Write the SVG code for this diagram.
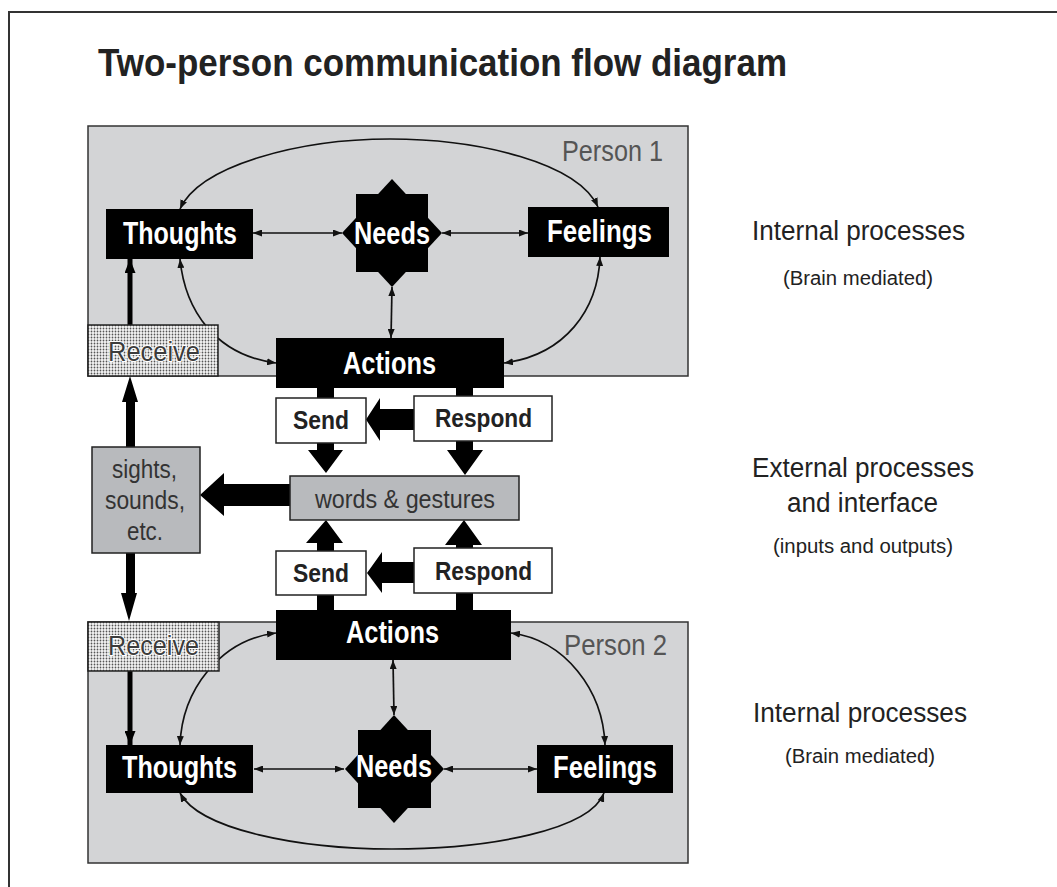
<svg xmlns="http://www.w3.org/2000/svg" width="1057" height="887" viewBox="0 0 1057 887">
<style>
  text { font-family: "Liberation Sans Narrow", "Liberation Sans", Arial, sans-serif; }
  .title { font-size: 39px; font-weight: bold; fill: #222; }
  .person { fill: #d3d4d6; stroke: #333; stroke-width: 1.5; }
  .plabel { font-size: 30px; fill: #555; }
  .blk { fill: #000; }
  .wlbl { font-size: 31px; font-weight: bold; fill: #fff; }
  .recv { fill: url(#dots); stroke: #222; stroke-width: 1.5; }
  .rlbl { font-size: 27px; fill: #3c3c3c; stroke: #fff; stroke-width: 2; paint-order: stroke; }
  .wbox { fill: #fff; stroke: #222; stroke-width: 1.5; }
  .slbl { font-size: 25px; font-weight: bold; fill: #222; }
  .gbox { fill: #b8babd; stroke: #222; stroke-width: 1.5; }
  .glbl { font-size: 26px; fill: #333; }
  .side { font-size: 27px; fill: #222; }
  .sub { font-size: 20px; fill: #222; }
  .thin { fill: none; stroke: #111; stroke-width: 1.7; marker-start: url(#ah); marker-end: url(#ah); }
  .thick { fill: none; stroke: #000; stroke-width: 5; marker-end: url(#ahb); }
  .block { fill: #000; }
</style>
<defs>
  <pattern id="dots" width="3" height="3" patternUnits="userSpaceOnUse">
    <rect width="3" height="3" fill="#f6f6f6"/>
    <circle cx="1.5" cy="1.5" r="0.9" fill="#555"/>
  </pattern>
  <marker id="ah" viewBox="0 0 10 10" refX="10" refY="5" markerWidth="9" markerHeight="7" markerUnits="userSpaceOnUse" preserveAspectRatio="none" orient="auto-start-reverse">
    <path d="M0,0 L10,5 L0,10 z" fill="#111"/>
  </marker>
  <marker id="ahb" viewBox="0 0 10 10" refX="10" refY="5" markerWidth="14" markerHeight="11" markerUnits="userSpaceOnUse" preserveAspectRatio="none" orient="auto">
    <path d="M0,0 L10,5 L0,10 z" fill="#000"/>
  </marker>
</defs>
<rect x="0" y="0" width="1057" height="887" fill="#fff"/>
<path d="M9,887 L9,12 L1057,12" fill="none" stroke="#333" stroke-width="2"/>

<text class="title" x="98" y="76" textLength="689" lengthAdjust="spacingAndGlyphs">Two-person communication flow diagram</text>

<g id="person1">
  <rect class="person" x="88" y="126" width="600" height="250"/>
  <text class="plabel" x="562" y="161" textLength="101" lengthAdjust="spacingAndGlyphs">Person 1</text>
</g>
<g id="person2">
  <rect class="person" x="88" y="622" width="600" height="241"/>
  <text class="plabel" x="564" y="655" textLength="103" lengthAdjust="spacingAndGlyphs">Person 2</text>
</g>

<g id="connectors">
  <!-- Person 1 internal -->
  <path class="thin" d="M180,209 C200,165 300,139 390,139 C480,139 578,163 598,207"/>
  <path class="thin" d="M253,233 L342,233"/>
  <path class="thin" d="M442,233 L528,233"/>
  <path class="thin" d="M392,287 L391,338"/>
  <path class="thin" d="M180,259 C185,310 215,355 276,363"/>
  <path class="thin" d="M600,257 C598,310 565,355 504,363"/>
  <path class="thick" d="M130,325 L130,259"/>
  <!-- Person 2 internal -->
  <path class="thin" d="M276,633 C220,640 182,690 180,745"/>
  <path class="thin" d="M511,633 C565,640 603,690 605,745"/>
  <path class="thin" d="M393,660 L394,715"/>
  <path class="thin" d="M254,769 L344,769"/>
  <path class="thin" d="M444,769 L537,769"/>
  <path class="thin" d="M180,793 C200,830 300,849 392,849 C490,849 590,830 604,793"/>
  <path class="thick" d="M130,671 L130,745"/>
  <!-- block arrows, upper -->
  <rect class="block" x="317" y="387" width="17" height="12"/>
  <rect class="block" x="456" y="387" width="17" height="10"/>
  <polygon class="block" points="414,409 380,409 380,398 366,419.5 380,441 380,430 414,430"/>
  <polygon class="block" points="317,443 334,443 334,450 343,450 326,473 308,450 317,450"/>
  <polygon class="block" points="456,441 473,441 473,450 483,450 465,475 447,450 456,450"/>
  <!-- words to sights -->
  <polygon class="block" points="290,484 224,484 224,473 200,495 224,516 224,506 290,506"/>
  <!-- sights to receive -->
  <polygon class="block" points="126,447 126,402 122,402 130,376 138,402 135,402 135,447"/>
  <polygon class="block" points="126,553 126,593 121,593 129,621 137,593 135,593 135,553"/>
  <!-- block arrows, lower -->
  <polygon class="block" points="317,551 317,543 306,543 326,520 343,543 334,543 334,551"/>
  <polygon class="block" points="456,548 456,545 445,545 464,520 482,545 473,545 473,548"/>
  <polygon class="block" points="414,562 382,562 382,552 367,573 382,593 382,583 414,583"/>
  <rect class="block" x="317" y="594" width="17" height="17"/>
  <rect class="block" x="456" y="592" width="17" height="19"/>
</g>

<!-- Person 1 nodes -->
<g id="thoughts1">
  <rect class="blk" x="106" y="209" width="147" height="50"/>
  <text class="wlbl" x="123" y="244" textLength="114" lengthAdjust="spacingAndGlyphs">Thoughts</text>
</g>
<g id="needs1">
  <rect class="blk" x="356" y="194" width="72" height="78"/>
  <polygon class="blk" points="392,179 442,233 392,287 342,233"/>
  <text class="wlbl" x="354" y="244" textLength="76" lengthAdjust="spacingAndGlyphs">Needs</text>
</g>
<g id="feelings1">
  <rect class="blk" x="528" y="207" width="141" height="50"/>
  <text class="wlbl" x="547" y="242" textLength="105" lengthAdjust="spacingAndGlyphs">Feelings</text>
</g>
<g id="receive1">
  <rect class="recv" x="88" y="325" width="130" height="51"/>
  <text class="rlbl" x="108" y="361" textLength="92" lengthAdjust="spacingAndGlyphs">Receive</text>
</g>
<g id="actions1">
  <rect class="blk" x="276" y="338" width="228" height="50"/>
  <text class="wlbl" x="343" y="374" textLength="93" lengthAdjust="spacingAndGlyphs">Actions</text>
</g>

<!-- interface nodes -->
<g id="send1">
  <rect class="wbox" x="276" y="398" width="90" height="45"/>
  <text class="slbl" x="293" y="429" textLength="56" lengthAdjust="spacingAndGlyphs">Send</text>
</g>
<g id="respond1">
  <rect class="wbox" x="414" y="396" width="138" height="45"/>
  <text class="slbl" x="435" y="427" textLength="97" lengthAdjust="spacingAndGlyphs">Respond</text>
</g>
<g id="words">
  <rect class="gbox" x="290" y="476" width="229" height="44"/>
  <text class="glbl" x="315" y="508" textLength="180" lengthAdjust="spacingAndGlyphs">words &amp; gestures</text>
</g>
<g id="sights">
  <rect class="gbox" x="92" y="447" width="108" height="106"/>
  <text class="glbl" x="112" y="478" textLength="65" lengthAdjust="spacingAndGlyphs">sights,</text>
  <text class="glbl" x="105" y="509" textLength="80" lengthAdjust="spacingAndGlyphs">sounds,</text>
  <text class="glbl" x="127" y="540" textLength="36" lengthAdjust="spacingAndGlyphs">etc.</text>
</g>
<g id="send2">
  <rect class="wbox" x="276" y="551" width="90" height="44"/>
  <text class="slbl" x="293" y="582" textLength="56" lengthAdjust="spacingAndGlyphs">Send</text>
</g>
<g id="respond2">
  <rect class="wbox" x="414" y="548" width="138" height="45"/>
  <text class="slbl" x="435" y="580" textLength="97" lengthAdjust="spacingAndGlyphs">Respond</text>
</g>

<!-- Person 2 nodes -->
<g id="actions2">
  <rect class="blk" x="276" y="610" width="235" height="50"/>
  <text class="wlbl" x="346" y="643" textLength="93" lengthAdjust="spacingAndGlyphs">Actions</text>
</g>
<g id="receive2">
  <rect class="recv" x="88" y="622" width="131" height="49"/>
  <text class="rlbl" x="108" y="655" textLength="91" lengthAdjust="spacingAndGlyphs">Receive</text>
</g>
<g id="thoughts2">
  <rect class="blk" x="106" y="745" width="147" height="48"/>
  <text class="wlbl" x="122" y="778" textLength="115" lengthAdjust="spacingAndGlyphs">Thoughts</text>
</g>
<g id="needs2">
  <rect class="blk" x="358" y="730" width="73" height="78"/>
  <polygon class="blk" points="394,715 444,769 394,823 345,769"/>
  <text class="wlbl" x="356" y="777" textLength="76" lengthAdjust="spacingAndGlyphs">Needs</text>
</g>
<g id="feelings2">
  <rect class="blk" x="537" y="745" width="136" height="48"/>
  <text class="wlbl" x="553" y="778" textLength="104" lengthAdjust="spacingAndGlyphs">Feelings</text>
</g>

<!-- side labels -->
<g id="labels">
  <text class="side" x="752" y="240" textLength="213" lengthAdjust="spacingAndGlyphs">Internal processes</text>
  <text class="sub" x="783" y="285" textLength="150" lengthAdjust="spacingAndGlyphs">(Brain mediated)</text>
  <text class="side" x="752" y="477" textLength="222" lengthAdjust="spacingAndGlyphs">External processes</text>
  <text class="side" x="787" y="512" textLength="151" lengthAdjust="spacingAndGlyphs">and interface</text>
  <text class="sub" x="773" y="553" textLength="180" lengthAdjust="spacingAndGlyphs">(inputs and outputs)</text>
  <text class="side" x="753" y="722" textLength="214" lengthAdjust="spacingAndGlyphs">Internal processes</text>
  <text class="sub" x="785" y="763" textLength="150" lengthAdjust="spacingAndGlyphs">(Brain mediated)</text>
</g>
</svg>
